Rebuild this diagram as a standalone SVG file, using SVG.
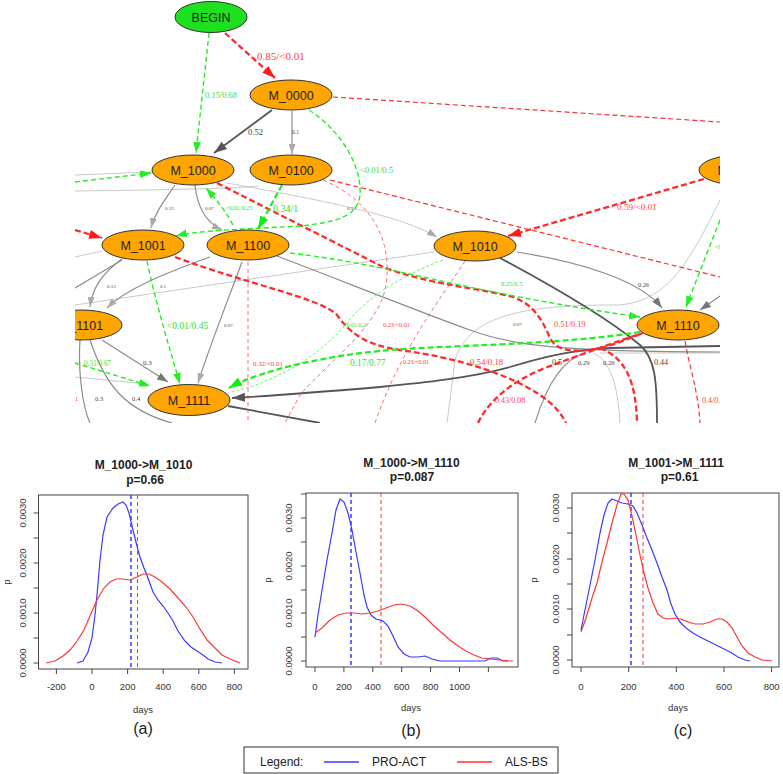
<svg xmlns="http://www.w3.org/2000/svg" width="783" height="774" viewBox="0 0 783 774">
<defs>
<style>
.n{fill:#ffa500;stroke:#333;stroke-width:1}
.nt{font-family:"Liberation Sans",Arial,sans-serif;font-size:12.5px;fill:#222;text-anchor:middle}
.el{font-family:"Liberation Serif","Times New Roman",serif}
.lr{fill:#ff4040}.lg{fill:#33dd33}.lk{fill:#444}
.e{fill:none}
.rt{stroke:#ff2a2a;stroke-width:2.3;stroke-dasharray:6 3}
.rn{stroke:#ff3030;stroke-width:1.2;stroke-dasharray:5 3}
.rf{stroke:#ff4a4a;stroke-width:0.8;stroke-dasharray:4 3}
.gt{stroke:#22ee22;stroke-width:2.3;stroke-dasharray:6 3}
.gn{stroke:#22ee22;stroke-width:1.4;stroke-dasharray:5 3}
.gf{stroke:#44ee44;stroke-width:0.8;stroke-dasharray:3 2}
.kl{stroke:#c8c8c8;stroke-width:1}
.km{stroke:#8c8c8c;stroke-width:1.2}
.kd{stroke:#555;stroke-width:1.8}
.ax{font-family:"Liberation Sans",Arial,sans-serif;font-size:9.5px;fill:#333}
.ttl{font-family:"Liberation Sans",Arial,sans-serif;font-size:12px;font-weight:bold;fill:#222;text-anchor:middle}
.cap{font-family:"Liberation Sans",Arial,sans-serif;font-size:16px;fill:#222;text-anchor:middle}
.box{fill:none;stroke:#444;stroke-width:1}
.tk{stroke:#444;stroke-width:1}
.cb{fill:none;stroke:#3a3aff;stroke-width:1.2}
.cr{fill:none;stroke:#ff3535;stroke-width:1.2}
.vb{stroke:#3a3aff;stroke-width:1.5;stroke-dasharray:4 3}
.vr{stroke:#ff3535;stroke-width:1;stroke-dasharray:4 3}
</style>
<marker id="aR" viewBox="0 0 10 7" refX="10" refY="3.5" markerWidth="10" markerHeight="7" markerUnits="userSpaceOnUse" orient="auto"><path d="M0,0L10,3.5L0,7z" fill="#ff2a2a"/></marker>
<marker id="aRb" viewBox="0 0 10 7" refX="10" refY="3.5" markerWidth="13" markerHeight="10" markerUnits="userSpaceOnUse" orient="auto"><path d="M0,0L10,3.5L0,7z" fill="#ff1a1a"/></marker>
<marker id="aG" viewBox="0 0 10 7" refX="10" refY="3.5" markerWidth="11" markerHeight="8" markerUnits="userSpaceOnUse" orient="auto"><path d="M0,0L10,3.5L0,7z" fill="#22ee22"/></marker>
<marker id="aGb" viewBox="0 0 10 7" refX="10" refY="3.5" markerWidth="13" markerHeight="10" markerUnits="userSpaceOnUse" orient="auto"><path d="M0,0L10,3.5L0,7z" fill="#11ee11"/></marker>
<marker id="aL" viewBox="0 0 10 7" refX="10" refY="3.5" markerWidth="10" markerHeight="7" markerUnits="userSpaceOnUse" orient="auto"><path d="M0,0L10,3.5L0,7z" fill="#aaa"/></marker>
<marker id="aM" viewBox="0 0 10 7" refX="10" refY="3.5" markerWidth="11" markerHeight="8" markerUnits="userSpaceOnUse" orient="auto"><path d="M0,0L10,3.5L0,7z" fill="#777"/></marker>
<marker id="aD" viewBox="0 0 10 7" refX="10" refY="3.5" markerWidth="13" markerHeight="10" markerUnits="userSpaceOnUse" orient="auto"><path d="M0,0L10,3.5L0,7z" fill="#555"/></marker>
<clipPath id="gclip"><rect x="75" y="0" width="645" height="423"/></clipPath>
</defs>
<rect x="0" y="0" width="783" height="774" fill="#fff"/>

<g id="graph" clip-path="url(#gclip)">
<g id="connectors">
 <!-- light / background gray lines -->
 <path class="e kl" d="M75,175 L152,172"/>
 <path class="e kl" d="M75,191 C150,190 230,189 258,186"/>
 <path class="e kl" d="M75,257 L102,251"/>
 <path class="e kl" d="M75,305 L434,252"/>
 <path class="e kl" d="M75,377 L148,384"/>
 <path class="e kl" d="M227,183 C320,200 400,215 437,237" marker-end="url(#aL)"/>
 <path class="e kl" d="M720,200 C690,260 670,300 620,305 C540,305 470,310 455,360 L447,423"/>
 <path class="e kl" d="M593,353 C610,360 618,385 620,423"/>
 <path class="e kl" d="M600,353 L720,353"/>
 <path class="e km" stroke="#999" d="M535,423 C545,390 560,360 585,353"/>
 <path class="e km" d="M122,260 L75,288"/>
 <path class="e km" stroke="#aaa" stroke-width="1" d="M292,111 L292,154" marker-end="url(#aL)"/>
 <path class="e km" stroke="#aaa" stroke-width="1" d="M175,185 C165,200 155,212 151,228" marker-end="url(#aL)"/>
 <path class="e km" stroke="#aaa" stroke-width="1" d="M195,185 C197,205 205,222 222,230" marker-end="url(#aL)"/>
 <path class="e km" stroke="#aaa" stroke-width="1" d="M122,259 C100,275 92,290 90,307" marker-end="url(#aL)"/>
 <path class="e km" stroke="#bbb" stroke-width="1" d="M210,257 C160,275 125,290 107,308" marker-end="url(#aL)"/>
 <path class="e km" stroke="#c4c4c4" stroke-width="1" d="M242,262 C228,300 210,345 198,383" marker-end="url(#aL)"/>
 <path class="e km" d="M102,340 L168,382" marker-end="url(#aM)"/>
 <path class="e km" d="M80,340 C78,370 82,405 90,423"/>
 <path class="e km" d="M90,340 C105,385 125,410 172,423"/>
 <path class="e km" d="M277,256 C340,280 420,312 470,330 C510,345 560,352 720,352"/>
 <path class="e km" d="M517,252 C580,262 640,280 662,308" marker-end="url(#aM)"/>
 <path class="e km" d="M720,296 L700,310" marker-end="url(#aM)"/>
 <path class="e kd" stroke-width="1.6" d="M500,258 C560,290 610,320 640,345 C655,358 657,380 657,423"/>
 <path class="e kd" stroke-width="1.5" d="M228,406 L320,423"/>
 <path class="e kd" d="M272,110 L214,153" marker-end="url(#aD)"/>
 <path class="e kd" d="M720,346 L610,348 C570,350 540,358 510,367 C470,378 420,383 380,387 C320,392 270,396 232,398" marker-end="url(#aD)"/>
 <!-- red edges -->
 <path class="e rf" d="M248,262 L248,423"/>
 <path class="e rf" d="M323,180 C370,200 395,240 385,290 C375,330 330,360 300,395 L285,423"/>
 <path class="e rf" d="M465,261 C440,300 400,350 375,423"/>
 <path class="e rn" d="M333,97 L720,122"/>
 <path class="e rn" d="M330,180 L720,277"/>
 <path class="e rn" d="M685,341 C690,370 698,390 700,423"/>
 <path class="e rt" stroke-width="2" d="M75,230 L102,238" marker-end="url(#aRb)"/>
 <path class="e rt" stroke-width="2.6" d="M225,33 L275,78" marker-end="url(#aRb)"/>
 <path class="e rt" d="M704,179 L508,236" marker-end="url(#aRb)"/>
 <path class="e rt" stroke-width="2" d="M217,183 C280,215 340,245 383,267 C430,285 480,288 513,297 C535,305 543,322 550,338 C557,352 575,352 595,349 C615,345 630,338 643,333"/>
 <path class="e rt" stroke-width="1.8" d="M175,257 C250,285 320,298 337,315 C350,333 365,345 400,350 C460,358 510,375 540,395 C555,405 562,415 566,423"/>
 <path class="e rt" stroke-width="1.8" d="M478,423 C490,398 515,380 545,368 C580,355 615,342 643,333"/>
 <path class="e rt" stroke-width="1.8" d="M600,348 C625,358 636,380 637,423"/>
 <!-- green edges -->
 <path class="e gf" d="M443,260 C395,278 365,300 345,325 C320,355 280,380 232,392"/>
 <path class="e gn" d="M209,33 L196,153" marker-end="url(#aG)"/>
 <path class="e gn" stroke-width="1.6" d="M309,110 C340,130 362,165 360,195 C358,215 340,222 300,226 C250,229 200,230 176,236" marker-end="url(#aG)"/>
 <path class="e gn" stroke-width="1.2" d="M75,182 L151,173" marker-end="url(#aG)"/>
 <path class="e gn" stroke-width="1.2" d="M233,225 C225,210 215,198 206,188" marker-end="url(#aG)"/>
 <path class="e gt" d="M282,185 L258,229" marker-end="url(#aGb)"/>
 <path class="e gn" stroke-width="1.6" d="M147,261 C155,300 170,350 180,384" marker-end="url(#aG)"/>
 <path class="e gn" stroke-width="1.2" d="M75,363 L150,386" marker-end="url(#aG)"/>
 <path class="e gn" stroke-width="1.2" d="M290,253 C350,260 400,272 450,283 C530,300 590,310 640,317" marker-end="url(#aG)"/>
 <path class="e gn" stroke-width="1.2" d="M720,220 L686,307" marker-end="url(#aG)"/>
 <path class="e gt" stroke-width="2.6" d="M640,332 C560,345 450,345 390,350 C330,355 260,370 229,388" marker-end="url(#aGb)"/>
 <!-- edge labels -->
 <g class="el">
  <text class="lr" x="257" y="60" font-size="11">0.85/&lt;0.01</text>
  <text class="lg" x="205" y="98" font-size="8.5">0.15/0.68</text>
  <text class="lk" x="248" y="135" font-size="8.6">0.52</text>
  <text class="lk" x="292" y="134" font-size="5.5">0.1</text>
  <text class="lg" x="360" y="173" font-size="8.6">&lt;0.01/0.5</text>
  <text class="lr" x="617" y="210" font-size="9.2">0.59/&lt;0.01</text>
  <text class="lk" x="165" y="210" font-size="5">0.13</text>
  <text class="lk" x="205" y="210" font-size="5">0.07</text>
  <text class="lg" x="226" y="210" font-size="6.1">&lt;0.01/0.25</text>
  <text class="lg" x="273" y="212" font-size="10">0.34/1</text>
  <text class="lk" x="347" y="210" font-size="5">0.13</text>
  <text class="lk" x="107" y="288" font-size="5">0.13</text>
  <text class="lk" x="160" y="288" font-size="5">0.1</text>
  <text class="lg" x="167" y="329" font-size="9.5">&lt;0.01/0.45</text>
  <text class="lk" x="224" y="327" font-size="5">0.07</text>
  <text class="lg" x="84" y="366" font-size="7.2">0.31/0.67</text>
  <text class="lk" x="143" y="365" font-size="7">0.3</text>
  <text class="lr" x="253" y="366" font-size="6.9">0.32/&lt;0.01</text>
  <text class="lg" x="343" y="327" font-size="6">&lt;0.01/0.2</text>
  <text class="lr" x="383" y="327" font-size="6.2">0.23/&lt;0.01</text>
  <text class="lg" x="350" y="366" font-size="9.4">0.17/0.77</text>
  <text class="lg" x="501" y="286" font-size="6.6">0.25/0.5</text>
  <text class="lk" x="638" y="287" font-size="6.3">0.26</text>
  <text class="lk" x="513" y="326" font-size="5">0.07</text>
  <text class="lr" x="554" y="327" font-size="8.4">0.51/0.19</text>
  <text class="lr" x="403" y="364" font-size="6">0.23/&lt;0.01</text>
  <text class="lr" x="470" y="365" font-size="8.8">0.54/0.18</text>
  <text class="lk" x="552" y="365" font-size="8">0.5</text>
  <text class="lk" x="578" y="365" font-size="6.7">0.29</text>
  <text class="lk" x="603" y="365" font-size="6.7">0.26</text>
  <text class="lk" x="654" y="365" font-size="8">0.44</text>
  <text class="lr" x="495" y="403" font-size="8">0.43/0.08</text>
  <text class="lr" x="702" y="403" font-size="8">0.4/0.1</text>
  <text class="lk" x="95" y="401" font-size="6.5">0.3</text>
  <text class="lk" x="132" y="401" font-size="6.5">0.4</text>
  <text class="lr" x="78" y="401" font-size="6.5" text-anchor="end">0.1</text>
  <text class="lg" x="715" y="249" font-size="6">&lt;0.01</text>
 </g>
</g>
<g id="node-BEGIN"><ellipse cx="211" cy="17" rx="36" ry="15.5" fill="#1ee01e" stroke="#333"/><text class="nt" x="211" y="22" font-size="14">BEGIN</text></g>
<g id="node-M_0000"><ellipse class="n" cx="291" cy="95" rx="41" ry="15"/><text class="nt" x="291" y="99.5">M_0000</text></g>
<g id="node-M_1000"><ellipse class="n" cx="193" cy="170" rx="41" ry="15"/><text class="nt" x="193" y="174.5">M_1000</text></g>
<g id="node-M_0100"><ellipse class="n" cx="291" cy="170" rx="41" ry="15"/><text class="nt" x="291" y="174.5">M_0100</text></g>
<g id="node-M_0010"><ellipse class="n" cx="740" cy="170" rx="41" ry="15"/><text class="nt" x="740" y="174.5">M_0010</text></g>
<g id="node-M_1001"><ellipse class="n" cx="143" cy="245" rx="41" ry="15"/><text class="nt" x="143" y="249.5">M_1001</text></g>
<g id="node-M_1100"><ellipse class="n" cx="248" cy="245" rx="41" ry="15"/><text class="nt" x="248" y="249.5">M_1100</text></g>
<g id="node-M_1010"><ellipse class="n" cx="475" cy="246" rx="41" ry="15"/><text class="nt" x="475" y="250.5">M_1010</text></g>
<g id="node-M_1101"><ellipse class="n" cx="81" cy="325" rx="41" ry="15"/><text class="nt" x="81" y="329.5">M_1101</text></g>
<g id="node-M_1110"><ellipse class="n" cx="678" cy="325" rx="41" ry="15"/><text class="nt" x="678" y="329.5">M_1110</text></g>
<g id="node-M_1111"><ellipse class="n" cx="189" cy="400" rx="41" ry="15.5"/><text class="nt" x="189" y="404.5">M_1111</text></g>
</g>

<!-- Plot (a) -->
<g id="plot-a">
 <text class="ttl" x="143.5" y="469">M_1000-&gt;M_1010</text>
 <text class="ttl" x="145" y="484">p=0.66</text>
 <rect class="box" x="38.5" y="495" width="209.5" height="174"/>
 <path class="tk" d="M38.5,663h-5M38.5,638h-5M38.5,613h-5M38.5,588h-5M38.5,563h-5M38.5,538h-5M38.5,513h-5"/>
 <g class="ax" text-anchor="middle">
  <text transform="translate(26,663) rotate(-90)">0.0000</text>
  <text transform="translate(26,613) rotate(-90)">0.0010</text>
  <text transform="translate(26,563) rotate(-90)">0.0020</text>
  <text transform="translate(26,513) rotate(-90)">0.0030</text>
  <text transform="translate(10,582) rotate(-90)">p</text>
 </g>
 <path class="tk" d="M56.4,669v5M92,669v5M127.6,669v5M163.2,669v5M198.8,669v5M234.4,669v5"/>
 <g class="ax" text-anchor="middle">
  <text x="56.4" y="690">-200</text><text x="92" y="690">0</text><text x="127.6" y="690">200</text><text x="163.2" y="690">400</text><text x="198.8" y="690">600</text><text x="234.4" y="690">800</text>
  <text x="143" y="713">days</text>
 </g>
 <text class="cap" x="143" y="734">(a)</text>
 <line class="vb" x1="131" y1="495" x2="131" y2="669"/>
 <line class="vr" x1="137.5" y1="495" x2="137.5" y2="669"/>
 <polyline class="cb" points="77,663 83,661 88,652 92,638 95,615 97,595 100,560 103,535 107,517 113,508 118,504 123,502 126,505 129,513 133,530 137,546 140,557 144,568 148,578 153,592 158,600 163,606 168,613 173,621 178,631 185,641 191,647 197,651 203,655 208,659 215,662 222,663"/>
 <polyline class="cr" points="46,663 55,661 63,656 70,650 77,641 84,630 90,616 97,600 104,588 110,582 116,579 122,579 130,580 137,577 143,574 149,574 155,577 162,582 170,589 178,598 186,607 193,617 200,629 207,640 215,648 222,655 230,659 240,663"/>
</g>

<!-- Plot (b) -->
<g id="plot-b">
 <text class="ttl" x="411.5" y="467">M_1000-&gt;M_1110</text>
 <text class="ttl" x="412" y="481">p=0.087</text>
 <rect class="box" x="306" y="493" width="212" height="174"/>
 <path class="tk" d="M306,661h-5M306,637h-5M306,613h-5M306,590h-5M306,566h-5M306,542h-5M306,518h-5M306,494h-5"/>
 <g class="ax" text-anchor="middle">
  <text transform="translate(292,661) rotate(-90)">0.0000</text>
  <text transform="translate(292,613) rotate(-90)">0.0010</text>
  <text transform="translate(292,566) rotate(-90)">0.0020</text>
  <text transform="translate(292,518) rotate(-90)">0.0030</text>
  <text transform="translate(271,580) rotate(-90)">p</text>
 </g>
 <path class="tk" d="M315,667v5M343.9,667v5M372.8,667v5M401.7,667v5M430.6,667v5M459.5,667v5M488.4,667v5"/>
 <g class="ax" text-anchor="middle">
  <text x="315" y="690">0</text><text x="343.9" y="690">200</text><text x="372.8" y="690">400</text><text x="401.7" y="690">600</text><text x="430.6" y="690">800</text><text x="459.5" y="690">1000</text>
  <text x="411" y="711">days</text>
 </g>
 <text class="cap" x="411" y="736">(b)</text>
 <line class="vb" x1="351" y1="493" x2="351" y2="667"/>
 <line class="vr" x1="381" y1="493" x2="381" y2="667"/>
 <polyline class="cb" points="315,637 318,615 322,590 327,560 332,533 336,510 340,499 344,502 348,513 352,530 356,552 360,573 364,595 367,607 371,615 376,619 383,621 388,626 393,636 398,647 404,654 410,657 418,657 425,656 432,659 440,661 485,661 491,658 497,658 503,661 508,661"/>
 <polyline class="cr" points="315,633 322,628 330,620 338,615 346,613 354,613 362,614 370,613 378,611 386,608 394,605 402,604 410,606 418,611 426,618 434,626 442,633 450,640 458,646 466,651 474,655 482,658 490,659 500,660 508,661 513,661"/>
</g>

<!-- Plot (c) -->
<g id="plot-c">
 <text class="ttl" x="676" y="467">M_1001-&gt;M_1111</text>
 <text class="ttl" x="679.5" y="481">p=0.61</text>
 <rect class="box" x="572" y="493" width="207" height="174"/>
 <path class="tk" d="M572,660h-5M572,635h-5M572,609h-5M572,584h-5M572,559h-5M572,533h-5M572,508h-5"/>
 <g class="ax" text-anchor="middle">
  <text transform="translate(559,660) rotate(-90)">0.0000</text>
  <text transform="translate(559,609) rotate(-90)">0.0010</text>
  <text transform="translate(559,559) rotate(-90)">0.0020</text>
  <text transform="translate(559,508) rotate(-90)">0.0030</text>
  <text transform="translate(537,580) rotate(-90)">p</text>
 </g>
 <path class="tk" d="M581,667v5M628.7,667v5M676.3,667v5M724,667v5M771.6,667v5"/>
 <g class="ax" text-anchor="middle">
  <text x="581" y="690">0</text><text x="628.7" y="690">200</text><text x="676.3" y="690">400</text><text x="724" y="690">600</text><text x="771.6" y="690">800</text>
  <text x="678" y="711">days</text>
 </g>
 <text class="cap" x="683" y="736">(c)</text>
 <line class="vb" x1="631" y1="493" x2="631" y2="667"/>
 <line class="vr" x1="643" y1="493" x2="643" y2="667"/>
 <polyline class="cb" points="581,630 585,610 590,585 595,560 600,533 604,515 608,503 612,499 617,501 622,503 628,504 633,506 637,513 642,525 647,538 652,550 657,563 662,577 667,590 671,604 675,614 680,622 686,628 693,633 700,637 710,642 720,647 730,652 738,657 745,660 750,661"/>
 <polyline class="cr" points="581,632 586,618 592,598 597,583 602,562 607,543 612,523 617,505 621,494 624,494 628,500 632,516 636,535 640,555 644,573 648,588 653,603 658,614 663,618 669,619 675,618 681,619 688,622 695,624 703,624 710,622 717,619 722,619 727,622 732,628 737,637 742,646 748,653 755,657 762,660 772,661"/>
</g>

<!-- Legend -->
<g id="legend">
 <rect x="244" y="747" width="314" height="26" fill="#fff" stroke="#333" stroke-width="1"/>
 <g font-family="'Liberation Sans',Arial,sans-serif" font-size="12" fill="#222">
  <text x="260" y="766">Legend:</text>
  <text x="372" y="766">PRO-ACT</text>
  <text x="505" y="766">ALS-BS</text>
 </g>
 <line x1="324" y1="762" x2="359" y2="762" stroke="#3a3aff" stroke-width="1.5"/>
 <line x1="457" y1="762" x2="492" y2="762" stroke="#ff3535" stroke-width="1.5"/>
</g>
</svg>
